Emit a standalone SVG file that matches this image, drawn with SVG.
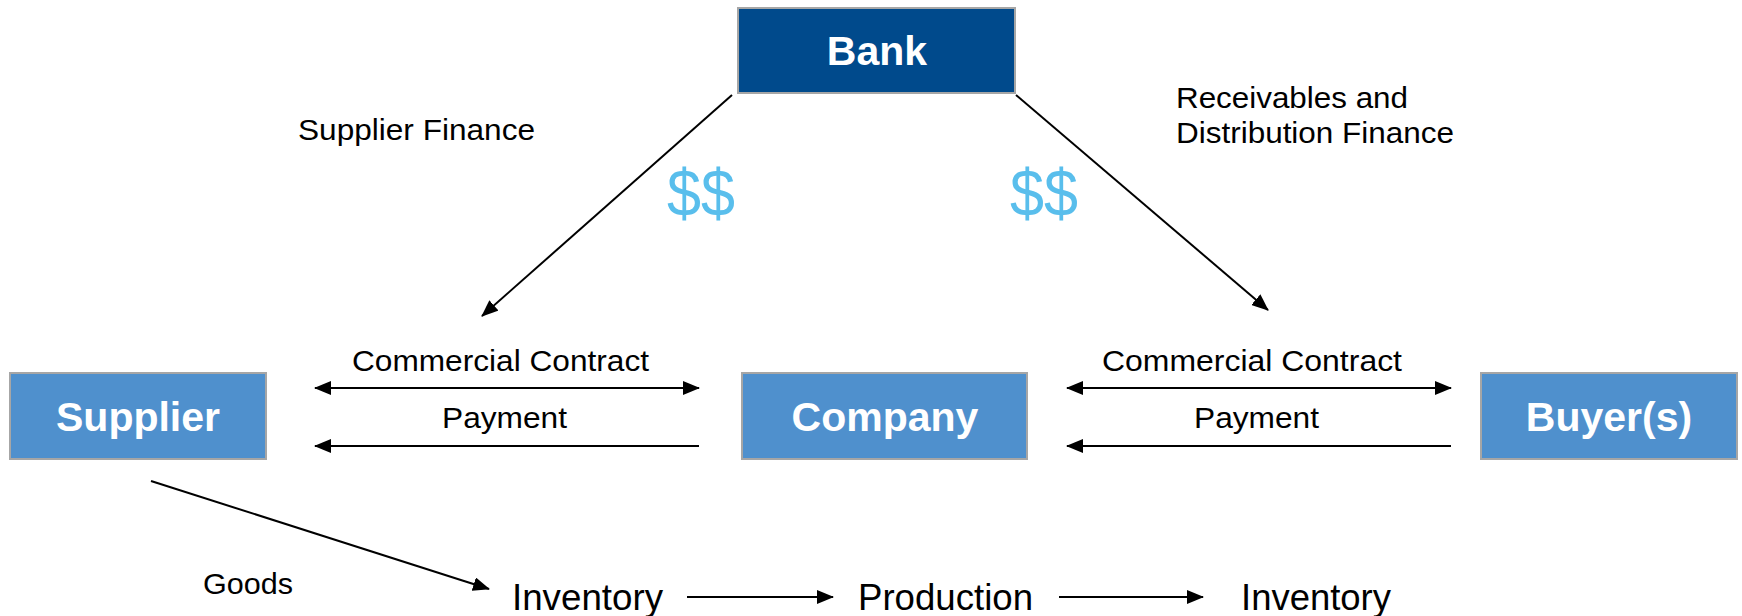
<svg xmlns="http://www.w3.org/2000/svg" width="1742" height="616" viewBox="0 0 1742 616">
  <style>
    .box { stroke: #A6A6A6; stroke-width: 2; }
    .bank { fill: #004A8C; }
    .party { fill: #4F90CD; }
    .title { font-family: "Liberation Sans", Arial, sans-serif; font-weight: bold; font-size: 41px; fill: #FFFFFF; text-anchor: middle; }
    .label { font-family: "Liberation Sans", Arial, sans-serif; font-size: 30px; fill: #000000; }
    .step { font-family: "Liberation Sans", Arial, sans-serif; font-size: 36px; fill: #000000; }
    .money { font-family: "Liberation Sans", Arial, sans-serif; font-size: 66px; fill: #59BEEC; }
    .flow { stroke: #000000; stroke-width: 2; fill: none; }
  </style>
  <defs>
    <marker id="head" markerUnits="userSpaceOnUse" markerWidth="18" markerHeight="14" refX="16" refY="7" orient="auto-start-reverse">
      <path d="M0,0 L17,7 L0,14 z" fill="#000000"/>
    </marker>
  </defs>

  <rect width="1742" height="616" fill="#FFFFFF"/>

  <!-- parties -->
  <g id="bank">
    <rect class="box bank" x="738" y="8" width="277" height="85"/>
    <text class="title" x="877" y="65">Bank</text>
  </g>
  <g id="supplier">
    <rect class="box party" x="10" y="373" width="256" height="86"/>
    <text class="title" x="138" y="431">Supplier</text>
  </g>
  <g id="company">
    <rect class="box party" x="742" y="373" width="285" height="86"/>
    <text class="title" x="885" y="431">Company</text>
  </g>
  <g id="buyers">
    <rect class="box party" x="1481" y="373" width="256" height="86"/>
    <text class="title" x="1609" y="431">Buyer(s)</text>
  </g>

  <!-- flows between parties -->
  <g id="connectors">
    <line class="flow" x1="732" y1="95" x2="482" y2="316" marker-end="url(#head)"/>
    <line class="flow" x1="1016" y1="95" x2="1268" y2="310" marker-end="url(#head)"/>

    <line class="flow" x1="315" y1="388" x2="699" y2="388" marker-start="url(#head)" marker-end="url(#head)"/>
    <line class="flow" x1="699" y1="446" x2="315" y2="446" marker-end="url(#head)"/>
    <line class="flow" x1="1067" y1="388" x2="1451" y2="388" marker-start="url(#head)" marker-end="url(#head)"/>
    <line class="flow" x1="1451" y1="446" x2="1067" y2="446" marker-end="url(#head)"/>

    <line class="flow" x1="151" y1="481" x2="489" y2="589" marker-end="url(#head)"/>
    <line class="flow" x1="687" y1="597" x2="833" y2="597" marker-end="url(#head)"/>
    <line class="flow" x1="1059" y1="597" x2="1203" y2="597" marker-end="url(#head)"/>
  </g>

  <!-- flow labels -->
  <g id="labels">
    <text class="label" x="298" y="140" textLength="237" lengthAdjust="spacingAndGlyphs">Supplier Finance</text>
    <text class="label" x="1176" y="108" textLength="232" lengthAdjust="spacingAndGlyphs">Receivables and</text>
    <text class="label" x="1176" y="143" textLength="278" lengthAdjust="spacingAndGlyphs">Distribution Finance</text>

    <text class="money" x="667" y="216" textLength="68" lengthAdjust="spacingAndGlyphs">$$</text>
    <text class="money" x="1010" y="216" textLength="68" lengthAdjust="spacingAndGlyphs">$$</text>

    <text class="label" x="352" y="371" textLength="297" lengthAdjust="spacingAndGlyphs">Commercial Contract</text>
    <text class="label" x="442" y="428" textLength="125" lengthAdjust="spacingAndGlyphs">Payment</text>
    <text class="label" x="1102" y="371" textLength="300" lengthAdjust="spacingAndGlyphs">Commercial Contract</text>
    <text class="label" x="1194" y="428" textLength="125" lengthAdjust="spacingAndGlyphs">Payment</text>

    <text class="label" x="203" y="594" textLength="90" lengthAdjust="spacingAndGlyphs">Goods</text>
  </g>

  <!-- goods stages -->
  <g id="stages">
    <text class="step" x="512" y="610" textLength="151" lengthAdjust="spacingAndGlyphs">Inventory</text>
    <text class="step" x="858" y="610" textLength="175" lengthAdjust="spacingAndGlyphs">Production</text>
    <text class="step" x="1241" y="610" textLength="150" lengthAdjust="spacingAndGlyphs">Inventory</text>
  </g>
</svg>
